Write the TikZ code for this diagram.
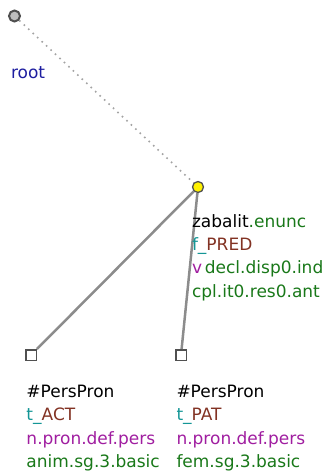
\documentclass[tikz,border=0pt]{standalone}
\usepackage{fontspec}
\setmainfont{DejaVu Sans}
\definecolor{cteal}{RGB}{20,150,150}
\definecolor{cbrown}{RGB}{130,50,35}
\definecolor{cmag}{RGB}{160,30,160}
\definecolor{cgreen}{RGB}{25,120,25}
\definecolor{cblue}{RGB}{30,30,160}
\definecolor{cedge}{RGB}{140,140,140}
\definecolor{cborder}{RGB}{80,80,80}
\begin{document}
\begin{tikzpicture}[x=1pt,y=-1pt,
  lbl/.style={anchor=base west,inner sep=0pt,outer sep=0pt,font=\fontsize{17}{20}\selectfont},
  rootnode/.style={circle,draw=cborder,fill=black!25,line width=2pt,minimum size=11pt,inner sep=0pt},
  tnode/.style={circle,draw=cborder,fill=yellow,line width=1.3pt,minimum size=11pt,inner sep=0pt},
  leaf/.style={rectangle,draw=cborder,fill=white,line width=1.5pt,minimum size=10.5pt,inner sep=0pt},
  edge/.style={draw=cedge,line width=2.5pt},
  rootedge/.style={draw=cedge!80,line width=1.6pt,dash pattern=on 1.6pt off 4.5pt}]
\useasboundingbox (0,0) rectangle (327,474);
\node[rootnode] (r) at (14.5,16) {};
\node[tnode] (z) at (198,187) {};
\node[leaf] (a) at (31,355) {};
\node[leaf] (p) at (181,355) {};
\draw[rootedge] (r) -- (z);
\draw[edge] (z) -- (a);
\draw[edge] (z) -- (p);
\node[lbl,text=cblue] (rl) at (11,78) {root};
\node[lbl] (z1) at (192,227) {zabalit\textcolor{cgreen}{.enunc}};
\node[lbl] (z2) at (192,250.3) {\textcolor{cteal}{f\_}\textcolor{cbrown}{PRED}};
\node[lbl] (z3) at (192,273.6) {\textcolor{cmag}{v}\,\textcolor{cgreen}{decl.disp0.ind}};
\node[lbl,text=cgreen] (z4) at (192,297) {cpl.it0.res0.ant};
\node[lbl] (a1) at (26.5,397) {\#PersPron};
\node[lbl] (a2) at (26.5,420.5) {\textcolor{cteal}{t\_}\textcolor{cbrown}{ACT}};
\node[lbl,text=cmag] (a3) at (26.5,444) {n.pron.def.pers};
\node[lbl,text=cgreen] (a4) at (26.5,467.5) {anim.sg.3.basic};
\node[lbl] (p1) at (176.5,397) {\#PersPron};
\node[lbl] (p2) at (176.5,420.5) {\textcolor{cteal}{t\_}\textcolor{cbrown}{PAT}};
\node[lbl,text=cmag] (p3) at (176.5,444) {n.pron.def.pers};
\node[lbl,text=cgreen] (p4) at (176.5,467.5) {fem.sg.3.basic};
\end{tikzpicture}
\end{document}
